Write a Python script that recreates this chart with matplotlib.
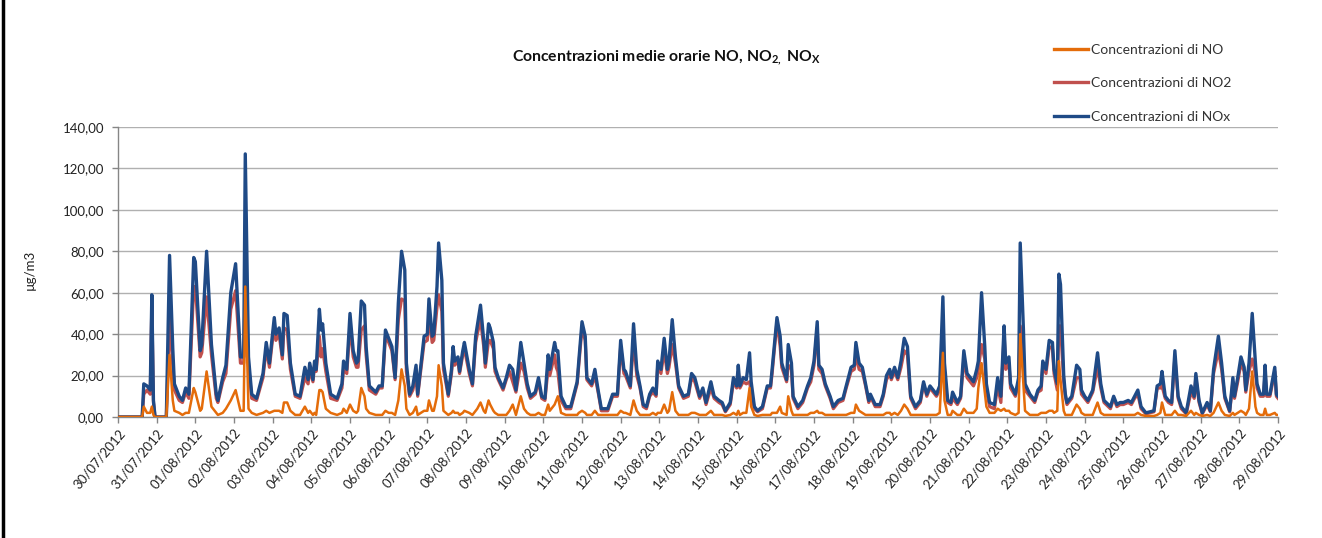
import matplotlib
matplotlib.use("Agg")
import matplotlib.pyplot as plt
from matplotlib.lines import Line2D

plt.rcParams['font.family'] = ['Lato', 'DejaVu Sans']
plt.rcParams['mathtext.fontset'] = 'custom'
plt.rcParams['mathtext.rm'] = 'Lato'
plt.rcParams['mathtext.bf'] = 'Lato:bold'

# hours since 30/07/2012 00:00
hours = [0, 15, 16, 18, 20, 21, 22, 23, 30, 32,
         34, 35, 38, 40, 42, 44, 47, 48, 51, 52,
         55, 58, 61, 62, 65, 67, 70, 73, 76, 78,
         79, 81, 83, 86, 90, 92, 94, 97, 98, 100,
         102, 103, 105, 107, 110, 113, 116, 118, 119, 121,
         122, 123, 125, 126, 127, 129, 132, 136, 139, 140,
         142, 144, 146, 148, 149, 151, 153, 154, 156, 160,
         162, 164, 166, 168, 170, 172, 174, 176, 178, 179,
         181, 183, 185, 186, 190, 192, 193, 195, 196, 198,
         199, 201, 202, 205, 207, 208, 209, 211, 212, 214,
         215, 218, 220, 222, 223, 225, 227, 228, 230, 231,
         233, 234, 236, 239, 241, 243, 245, 247, 250, 252,
         254, 256, 259, 261, 263, 265, 267, 268, 271, 272,
         273, 275, 278, 281, 285, 286, 288, 290, 291, 294,
         296, 298, 300, 304, 307, 310, 312, 314, 315, 318,
         320, 322, 324, 326, 328, 330, 332, 334, 335, 337,
         339, 341, 342, 344, 346, 348, 351, 354, 356, 358,
         361, 363, 365, 368, 370, 373, 375, 377, 380, 382,
         384, 385, 386, 388, 390, 392, 393, 395, 397, 400,
         403, 405, 406, 409, 411, 412, 415, 416, 418, 419,
         422, 425, 428, 430, 432, 434, 435, 437, 439, 442,
         444, 447, 450, 452, 455, 457, 458, 460, 462, 464,
         466, 467, 470, 473, 475, 477, 479, 480, 482, 484,
         486, 488, 490, 492, 495, 498, 500, 502, 504, 506,
         508, 510, 512, 513, 515, 517, 518, 521, 523, 525,
         527, 529, 531, 533, 534, 536, 538, 539, 541, 544,
         546, 548, 550, 551, 553, 554, 557, 559, 560, 562,
         563, 566, 569, 571, 573, 574, 576, 578, 580, 581,
         583, 584, 585, 587, 588, 589, 592, 595, 597, 598,
         600, 602, 605, 608, 610, 612, 616, 618, 620, 622,
         624, 627, 629, 631, 633, 635, 638, 643, 645, 647,
         648, 650, 652, 654, 656, 658, 660, 663, 666, 668,
         669, 671, 673, 676, 678, 680, 683, 685, 687, 690,
         692, 693, 695, 697, 699, 700, 702, 704, 706, 707,
         709, 711, 712, 713, 715, 718, 719, 720]

nox = [0, 0, 16, 15, 13, 59, 8, 0, 0, 78,
       33, 16, 10, 8, 14, 11, 77, 75, 32, 35,
       80, 35, 11, 8, 19, 25, 60, 74, 29, 29,
       127, 29, 11, 9, 21, 36, 26, 48, 40, 43,
       30, 50, 49, 26, 11, 10, 24, 18, 26, 18,
       27, 23, 52, 42, 45, 26, 11, 9, 16, 27,
       23, 50, 32, 26, 27, 56, 54, 34, 15, 12,
       15, 15, 42, 38, 34, 19, 55, 80, 71, 26,
       11, 15, 25, 11, 39, 40, 57, 39, 40, 63,
       84, 66, 26, 11, 23, 34, 27, 29, 22, 32,
       36, 23, 16, 39, 44, 54, 37, 26, 45, 43,
       36, 24, 19, 14, 19, 25, 23, 13, 36, 26,
       16, 10, 12, 19, 10, 9, 30, 23, 36, 32,
       32, 10, 5, 5, 17, 27, 46, 39, 19, 16,
       23, 13, 4, 4, 11, 11, 37, 23, 22, 15,
       45, 23, 15, 6, 5, 11, 14, 11, 27, 23,
       38, 23, 27, 47, 29, 15, 10, 11, 21, 19,
       10, 14, 7, 17, 10, 8, 7, 3, 7, 19,
       15, 25, 15, 19, 18, 31, 17, 5, 3, 5,
       15, 15, 23, 48, 39, 26, 18, 35, 26, 10,
       5, 8, 15, 19, 27, 46, 25, 23, 16, 10,
       5, 8, 9, 15, 24, 25, 36, 26, 24, 16,
       8, 11, 6, 6, 11, 20, 23, 19, 24, 19,
       27, 38, 34, 10, 5, 8, 17, 11, 15, 13,
       11, 15, 58, 26, 8, 7, 12, 7, 10, 32,
       21, 19, 17, 23, 27, 60, 34, 16, 7, 6,
       19, 10, 44, 26, 29, 16, 11, 19, 84, 42,
       16, 11, 8, 13, 15, 27, 23, 37, 36, 23,
       16, 69, 64, 20, 11, 7, 10, 25, 23, 13,
       10, 8, 13, 31, 16, 8, 5, 10, 6, 7,
       7, 8, 7, 10, 13, 5, 2, 3, 15, 16,
       22, 10, 8, 7, 32, 10, 5, 2, 15, 10,
       21, 8, 2, 7, 3, 23, 39, 26, 10, 3,
       19, 10, 19, 29, 24, 13, 26, 50, 26, 16,
       11, 11, 25, 11, 11, 24, 11, 10]

no2 = [0, 0, 11, 13, 11, 54, 7, 0, 0, 48,
       25, 13, 8, 7, 12, 9, 63, 63, 29, 31,
       58, 30, 9, 7, 17, 21, 52, 61, 26, 26,
       64, 25, 9, 8, 19, 33, 24, 45, 37, 40,
       28, 43, 42, 23, 10, 9, 19, 16, 23, 17,
       25, 22, 39, 29, 33, 22, 9, 8, 14, 23,
       21, 44, 29, 24, 24, 42, 44, 30, 13, 11,
       14, 14, 39, 36, 32, 18, 47, 57, 56, 22,
       10, 13, 20, 10, 36, 37, 49, 36, 37, 53,
       59, 51, 23, 10, 21, 31, 25, 27, 21, 30,
       33, 21, 15, 36, 40, 47, 34, 24, 37, 37,
       33, 22, 18, 13, 18, 22, 17, 12, 26, 22,
       14, 9, 11, 17, 9, 8, 24, 20, 30, 24,
       22, 8, 4, 4, 16, 25, 43, 37, 18, 15,
       20, 12, 3, 3, 10, 10, 34, 21, 20, 14,
       37, 20, 14, 5, 4, 10, 12, 10, 25, 21,
       32, 21, 24, 35, 26, 14, 9, 10, 19, 17,
       9, 13, 6, 14, 9, 7, 6, 2.5, 6, 17,
       14, 22, 14, 17, 16, 17, 12, 4, 2.5, 4,
       14, 14, 21, 46, 34, 24, 17, 25, 23, 9,
       4, 7, 14, 17, 25, 43, 23, 21, 15, 9,
       4, 7, 8, 14, 22, 23, 30, 23, 22, 15,
       7, 10, 5, 5, 10, 18, 21, 18, 22, 18,
       24, 32, 30, 9, 4, 7, 16, 10, 14, 12,
       10, 13, 27, 18, 7, 6, 9, 6, 9, 28,
       19, 17, 15, 19, 23, 35, 28, 13, 5, 4,
       15, 7, 40, 23, 26, 14, 10, 17, 44, 27,
       13, 10, 7, 12, 13, 25, 21, 34, 33, 21,
       13, 44, 44, 17, 10, 6, 9, 19, 19, 11,
       9, 7, 12, 24, 14, 7, 4, 9, 5, 6,
       6, 7, 6, 9, 11, 4, 1.5, 2.5, 14, 14,
       15, 9, 7, 6, 29, 9, 4, 1.5, 12, 9,
       19, 7, 1.5, 6, 2.5, 21, 32, 23, 9, 2.5,
       17, 9, 17, 26, 22, 12, 22, 28, 21, 14,
       10, 10, 21, 10, 10, 22, 10, 9]

no = [0, 0, 5, 2, 2, 5, 1, 0, 0, 30,
      8, 3, 2, 1, 2, 2, 14, 12, 3, 4,
      22, 5, 2, 1, 2, 4, 8, 13, 3, 3,
      63, 4, 2, 1, 2, 3, 2, 3, 3, 3,
      2, 7, 7, 3, 1, 1, 5, 2, 3, 1,
      2, 1, 13, 13, 12, 4, 2, 1, 2, 4,
      2, 6, 3, 2, 3, 14, 10, 4, 2, 1,
      1, 1, 3, 2, 2, 1, 8, 23, 15, 4,
      1, 2, 5, 1, 3, 3, 8, 3, 3, 10,
      25, 15, 3, 1, 2, 3, 2, 2, 1, 2,
      3, 2, 1, 3, 4, 7, 3, 2, 8, 6,
      3, 2, 1, 1, 1, 3, 6, 1, 10, 4,
      2, 1, 1, 2, 1, 1, 6, 3, 6, 8,
      10, 2, 1, 1, 1, 2, 3, 2, 1, 1,
      3, 1, 1, 1, 1, 1, 3, 2, 2, 1,
      8, 3, 1, 1, 1, 1, 2, 1, 2, 2,
      6, 2, 3, 12, 3, 1, 1, 1, 2, 2,
      1, 1, 1, 3, 1, 1, 1, 0.5, 1, 2,
      1, 3, 1, 2, 2, 14, 5, 1, 0.5, 1,
      1, 1, 2, 2, 5, 2, 1, 10, 3, 1,
      1, 1, 1, 2, 2, 3, 2, 2, 1, 1,
      1, 1, 1, 1, 2, 2, 6, 3, 2, 1,
      1, 1, 1, 1, 1, 2, 2, 1, 2, 1,
      3, 6, 4, 1, 1, 1, 1, 1, 1, 1,
      1, 2, 31, 8, 1, 1, 3, 1, 1, 4,
      2, 2, 2, 4, 14, 26, 12, 5, 2, 2,
      4, 3, 4, 3, 3, 2, 1, 2, 40, 15,
      3, 1, 1, 1, 2, 2, 2, 3, 3, 2,
      3, 27, 18, 3, 1, 1, 1, 6, 4, 2,
      1, 1, 1, 7, 2, 1, 1, 1, 1, 1,
      1, 1, 1, 1, 2, 1, 0.5, 0.5, 1, 2,
      7, 1, 1, 1, 3, 1, 1, 0.5, 3, 1,
      2, 1, 0.5, 1, 0.5, 2, 7, 3, 1, 0.5,
      2, 1, 2, 3, 2, 1, 4, 22, 5, 2,
      1, 1, 4, 1, 1, 2, 1, 1]

date_labels = ['30/07/2012', '31/07/2012', '01/08/2012', '02/08/2012', '03/08/2012',
               '04/08/2012', '05/08/2012', '06/08/2012', '07/08/2012', '08/08/2012',
               '09/08/2012', '10/08/2012', '11/08/2012', '12/08/2012', '13/08/2012',
               '14/08/2012', '15/08/2012', '16/08/2012', '17/08/2012', '18/08/2012',
               '19/08/2012', '20/08/2012', '21/08/2012', '22/08/2012', '23/08/2012',
               '24/08/2012', '25/08/2012', '26/08/2012', '27/08/2012', '28/08/2012',
               '29/08/2012']
y_ticks = [0, 20, 40, 60, 80, 100, 120, 140]
series_labels = ['Concentrazioni di NO', 'Concentrazioni di NO2', 'Concentrazioni di NOx']

C_NO = '#E46C0A'
C_NO2 = '#C0504D'
C_NOX = '#1F4A86'

W, H = 1322, 538
fig = plt.figure(figsize=(W / 100, H / 100), dpi=100)
ax = fig.add_axes([118 / W, 1 - 417 / H, 1160 / W, 290 / H])

l2, = ax.plot(hours, no2, color=C_NO2, lw=2.3, zorder=3, solid_joinstyle='round')
lx, = ax.plot(hours, nox, color=C_NOX, lw=2.4, zorder=4, solid_joinstyle='round')
l1, = ax.plot(hours, no, color=C_NO, lw=1.8, zorder=5, solid_joinstyle='round')

ax.set_xlim(0, 24 * (len(date_labels) - 1))
ax.set_ylim(0, 140)
ax.set_yticks(y_ticks)
ax.set_yticklabels([f"{v:.2f}".replace('.', ',') for v in y_ticks], fontsize=9.5, color='#222222')
ax.set_xticks([24 * i for i in range(len(date_labels))])
ax.set_xticklabels(date_labels, rotation=50, ha='right', rotation_mode='anchor',
                   fontsize=9.5, color='#222222')
ax.tick_params(axis='both', colors='#868686', length=4, width=1, labelcolor='#222222')
ax.tick_params(axis='y', pad=6)
ax.tick_params(axis='x', pad=3)
ax.grid(axis='y', color='#b0b0b0', lw=1.0)
ax.set_axisbelow(True)
for s in ['top', 'right']:
    ax.spines[s].set_visible(False)
for s in ['left', 'bottom']:
    ax.spines[s].set_color('#868686')
    ax.spines[s].set_linewidth(1.0)

fig.text(30 / W, 1 - 270 / H, 'µg/m3', rotation=90, fontsize=9.5, ha='center', va='center',
         color='#222222')

fig.text(666 / W, 1 - 58 / H,
         r'Concentrazioni medie orarie NO, NO$_{\mathbf{2,}}$ NO$_{\mathbf{X}}$',
         fontsize=11.3, fontweight='bold', ha='center', va='center', color='#111111')

leg = fig.legend([l1, l2, lx], series_labels, loc='upper left',
                 bbox_to_anchor=(1041 / W, 1 - 31 / H), frameon=False, fontsize=10,
                 handlelength=2.5, handletextpad=0.2, labelspacing=1.55)
for t in leg.get_texts():
    t.set_color('#333333')
for h in leg.legend_handles:
    h.set_linewidth(2.4)

fig.add_artist(Line2D([2.5 / W, 2.5 / W], [0, 1], transform=fig.transFigure,
                      color='black', lw=2.5))

fig.savefig('out.png', dpi=100)
